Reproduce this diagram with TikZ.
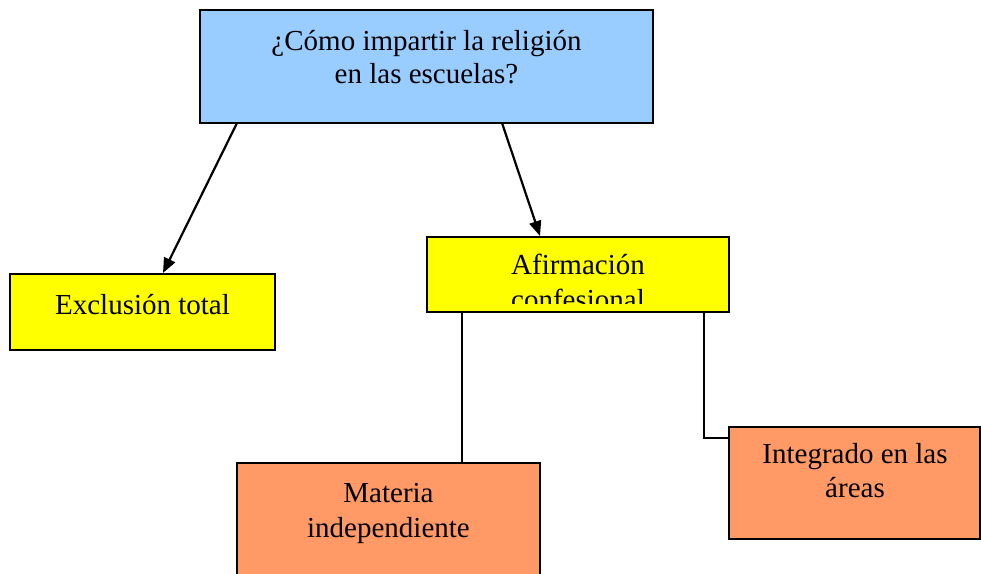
\documentclass[tikz,border=0pt]{standalone}
\usepackage{fontspec}
\setmainfont{Liberation Serif}
\usetikzlibrary{calc,arrows.meta}
\definecolor{qblue}{HTML}{99CCFF}
\definecolor{qyellow}{HTML}{FFFF00}
\definecolor{qorange}{HTML}{FF9966}
\begin{document}
\begin{tikzpicture}[x=1pt,y=-1pt,
  box/.style={draw=black,line width=2.2pt,rectangle,inner sep=0pt,outer sep=0pt,anchor=north west},
  lbl/.style={anchor=base,align=center,inner sep=0pt,font=\fontsize{29}{35}\selectfont},
  conn/.style={draw=black,line width=2.2pt},
  arr/.style={conn,-{Triangle[length=15pt,width=12pt]}}]
\useasboundingbox (0,0) rectangle (981,573);
\fill[white] (0,0) rectangle (981,573);
% boxes
\node[box,fill=qblue,minimum width=453pt,minimum height=113pt] (top) at (200,10) {};
\node[box,fill=qyellow,minimum width=265pt,minimum height=76pt] (excl) at (10,274) {};
\node[box,fill=qyellow,minimum width=302pt,minimum height=75pt] (afir) at (427,237) {};
\node[box,fill=qorange,minimum width=303pt,minimum height=140pt] (mat) at (237,463) {};
\node[box,fill=qorange,minimum width=251pt,minimum height=112pt] (integ) at (729,427) {};
% texts (base anchor = baseline of last line)
\node[lbl,font=\fontsize{29}{33.3}\selectfont] (ttop) at (426.5,83.3) {¿Cómo impartir la religión\\en las escuelas?};
\node[lbl] (texcl) at (142.5,314) {Exclusión total};
\begin{scope}
\clip (427,237) rectangle (729,303);
\node[lbl] (tafir) at (578,309) {Afirmación\\confesional};
\end{scope}
\node[lbl] (tmat) at (388.5,537) {Materia\\independiente};
\node[lbl,font=\fontsize{29}{34}\selectfont] (tinteg) at (855,497) {Integrado en las\\áreas};
% connectors
\draw[arr] ($(top.south west)+(37,0)$) -- ($(excl.north west)+(153,-1)$);
\draw[arr] ($(top.south west)+(302,0)$) -- ($(afir.north west)+(113,-1)$);
\draw[conn] ($(afir.south west)+(35,0)$) -- ($(mat.north west)+(225,0)$);
\draw[conn] ($(afir.south west)+(277,0)$) |- ($(integ.north west)+(0,11)$);
\end{tikzpicture}
\end{document}
